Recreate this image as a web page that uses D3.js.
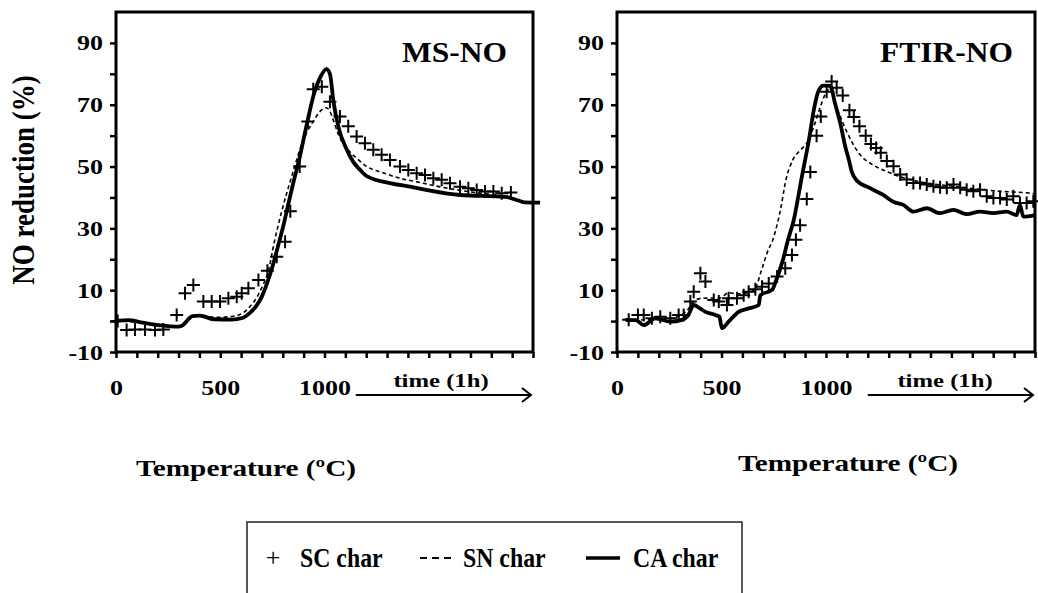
<!DOCTYPE html>
<html>
<head>
<meta charset="utf-8">
<script src="https://cdn.jsdelivr.net/npm/d3@7"></script>
<style>
  body { margin: 0; background: #fff; }
  svg { display: block; font-family: 'Liberation Serif', 'Times New Roman', serif; font-weight: bold; }
</style>
</head>
<body>
<svg id="chart" width="1038" height="593"></svg>
<script>
//Axis ticks and labels
const yTickValues = d3.range(-10, 91, 10);
const yTickLabels = [-10, 10, 30, 50, 70, 90];
const xTickValues = d3.range(0, 2001, 100);
const xTickLabels = [0, 500, 1000];
const panelNames = ['MS-NO', 'FTIR-NO'];
const seriesNames = ['SC char', 'SN char', 'CA char'];

//MS-NO panel, [temperature / time, NO reduction %]
const msSC = [[8,0],[51,-2.9],[91,-2.7],[139,-2.7],[187,-2.9],[227,-2.7],[291,2],[331,9],[371,11.7],[419,6.3],[459,6.3],[499,6.3],[539,7.4],[579,7.9],[603,9],[635,10.6],[683,13.3],[726,16.3],[771,20.8],[811,25.7],[836,35.5],[881,50],[920,64.6],[946,75],[987,75.8],[1026,71],[1074,66.2],[1114,63],[1154,59.7],[1194,57.5],[1234,55.4],[1274,53.8],[1314,52.1],[1362,50],[1402,48.9],[1442,47.8],[1482,47.3],[1522,46.2],[1562,45.7],[1602,44.6],[1650,43.5],[1690,43],[1730,42.4],[1770,41.9],[1810,41.9],[1850,41.4],[1894,41.6]];
const msSN = [[0,0],[128,-0.5],[214,-1.4],[299,-1.8],[316,-1.4],[367,1.6],[401,2],[469,1.2],[555,1.5],[606,2.5],[640,4.5],[674,7.5],[700,11],[730,16],[759,25.5],[794,35.3],[845,47.3],[896,58.2],[947,64.7],[981,68],[1007,69],[1025,68],[1045,64.5],[1067,60.3],[1118,55],[1154,52.7],[1203,50],[1280,48],[1362,46.2],[1426,45.3],[1550,43.5],[1700,41.8],[1850,40.5],[1920,39.5]];
const msCA = [[0,0],[60,0.3],[128,-0.5],[214,-1.4],[299,-1.8],[316,-1.5],[367,1.6],[401,1.8],[469,0.6],[555,0.5],[606,1],[640,2.5],[674,5],[700,8],[726,12.5],[752,18],[778,24.5],[805,31.5],[829,38.6],[855,46],[880,52.7],[915,63.6],[949,73.4],[983,79.3],[1009,81.5],[1026,80],[1043,71],[1068,62.5],[1103,56],[1137,51.6],[1170,49],[1205,46.8],[1325,44.5],[1410,43.5],[1500,42.3],[1650,40.8],[1866,40.2],[1930,39],[1960,38.4],[2034,38.3]];

//FTIR-NO panel
const ftirSC = [[56,0.4],[100,2],[128,2],[167,0.9],[207,1.4],[255,0.9],[295,2],[319,2],[351,6.3],[367,9.5],[399,15.5],[423,12.8],[463,6.8],[487,6.3],[526,5.2],[534,7.4],[574,7.4],[606,8.4],[630,9.5],[662,10.3],[694,11.1],[726,12.2],[766,14.4],[805,17.1],[837,21.4],[856,26.3],[876,31],[908,39.5],[925,48.2],[955,60],[975,66.2],[1003,74.2],[1027,77.5],[1051,75.5],[1080,73],[1112,68.2],[1133,66],[1160,63],[1190,60],[1215,57.3],[1240,56],[1262,54.5],[1291,51.8],[1323,50.1],[1355,47.4],[1386,45.8],[1418,44.7],[1450,44.7],[1482,44.2],[1514,43.6],[1546,43.3],[1578,43.1],[1610,44.2],[1642,43.1],[1673,42.5],[1705,42],[1737,42.5],[1769,40.4],[1801,39.8],[1833,39.8],[1865,39.3],[1896,40.4],[1928,38.2],[1960,38.2],[1992,38.8]];
const ftirSN = [[48,0],[150,0.5],[250,0.8],[330,3],[370,6.5],[407,7.4],[494,7.5],[534,9.2],[574,8.8],[653,9.8],[694,17],[718,22],[749,27],[785,37],[806,45],[840,52],[880,55.5],[912,58],[940,62.6],[972,69.1],[996,73.4],[1020,75.3],[1040,71],[1059,67.8],[1099,61.3],[1163,53.8],[1226,50.5],[1290,48.4],[1354,46.7],[1420,45.5],[1500,44.5],[1610,43.6],[1737,42.6],[1833,42],[1960,41.5],[2000,41.2]];
const ftirCA = [[40,0.4],[90,0.3],[128,-1.3],[183,0.9],[255,-0.2],[311,0.4],[340,1.8],[367,5.2],[395,4.2],[423,3],[470,2],[490,1.4],[502,-2.3],[534,-0.2],[582,3],[630,4.1],[678,5.2],[686,8.4],[742,10.1],[762,13.3],[794,19.8],[818,26.2],[845,32.5],[884,46.5],[918,58.5],[945,69.5],[966,74.8],[988,76.2],[1020,76.1],[1044,70.2],[1070,63.5],[1092,56.5],[1110,52],[1123,48.4],[1147,45.5],[1211,43],[1274,40.8],[1322,38.6],[1370,37.6],[1418,35.4],[1482,36.5],[1545,34.9],[1609,36],[1673,34.6],[1737,35.4],[1800,34.9],[1864,35.4],[1912,34.3],[1928,37.6],[1944,33.8],[2000,34.3]];

//Layout
const plotTop = 12, plotBottom = 352;
const panels = [
  { name: panelNames[0], left: 116, right: 533, series: [msSC, msSN, msCA], labelX: 507, titleX: 246, titleY: 476, timeX: 441, arrowFrom: 1150 },
  { name: panelNames[1], left: 617, right: 1035, series: [ftirSC, ftirSN, ftirCA], labelX: 1013, titleX: 848, titleY: 471, timeX: 945, arrowFrom: 1200 }
];

const svg = d3.select('#chart');
const stretch = 1.18;

//Text with the wide look of the original
function wideText(g, x, y, str, size, anchor, sx) {
  return g.append('text')
    .attr('transform', `translate(${x},${y}) scale(${sx || stretch},1)`)
    .attr('text-anchor', anchor || 'middle')
    .style('font-size', size + 'px')
    .text(str);
}

const plus = 'M-6.5,0H6.5M0,-6.5V6.5';

panels.forEach(p => {
  const x = d3.scaleLinear().domain([0, 2000]).range([p.left, p.right]);
  const y = d3.scaleLinear().domain([-10, 100]).range([plotBottom, plotTop]);
  const g = svg.append('g');

  //Y axis
  const yAxis = g.append('g')
    .attr('transform', `translate(${p.left},0)`)
    .call(d3.axisLeft(y).tickValues(yTickValues).tickSize(6).tickPadding(8)
      .tickFormat(d => yTickLabels.includes(d) ? d : ''))
    .attr('font-family', null).attr('font-size', null);
  yAxis.select('.domain').remove();
  yAxis.selectAll('line').attr('stroke-width', 2.5);
  yAxis.selectAll('text')
    .style('font-size', '22px').style('font-weight', 'bold')
    .attr('transform', `translate(-13,0) scale(${stretch},1)`).attr('x', 0);

  //X axis
  const xAxis = g.append('g')
    .attr('transform', `translate(0,${plotBottom})`)
    .call(d3.axisBottom(x).tickValues(xTickValues).tickSize(6).tickPadding(8)
      .tickFormat(d => xTickLabels.includes(d) ? d : ''))
    .attr('font-family', null).attr('font-size', null);
  xAxis.select('.domain').remove();
  xAxis.selectAll('line').attr('stroke-width', 2.5);
  xAxis.selectAll('text')
    .style('font-size', '22px').style('font-weight', 'bold')
    .attr('y', 0).attr('dy', 0)
    .attr('transform', `translate(0,43) scale(${stretch},1)`);

  //Frame
  g.append('rect')
    .attr('x', p.left).attr('y', plotTop)
    .attr('width', p.right - p.left).attr('height', plotBottom - plotTop)
    .attr('fill', 'none').attr('stroke', '#000').attr('stroke-width', 3);

  const line = d3.line()
    .x(d => x(d[0]))
    .y(d => y(d[1]))
    .curve(d3.curveMonotoneX);

  //SN char dashed
  g.append('path').datum(p.series[1])
    .attr('d', line).attr('fill', 'none')
    .attr('stroke', '#000').attr('stroke-width', 1.6).attr('stroke-dasharray', '4,3');

  //CA char solid
  g.append('path').datum(p.series[2])
    .attr('d', line).attr('fill', 'none')
    .attr('stroke', '#000').attr('stroke-width', 3.8).attr('stroke-linejoin', 'round');

  //SC char markers
  g.selectAll('.sc').data(p.series[0]).enter()
    .append('path')
    .attr('class', 'sc')
    .attr('transform', d => `translate(${x(d[0])},${y(d[1])})`)
    .attr('d', plus).attr('stroke', '#000').attr('stroke-width', 2);

  //Panel label
  wideText(g, p.labelX, 62, p.name, 30, 'end', 1.05);

  //Time arrow
  const ay = 395;
  g.append('line')
    .attr('x1', x(p.arrowFrom)).attr('x2', p.right - 2)
    .attr('y1', ay).attr('y2', ay)
    .attr('stroke', '#000').attr('stroke-width', 2);
  g.append('path')
    .attr('d', `M${p.right - 11},${ay - 7}L${p.right - 2},${ay}L${p.right - 11},${ay + 7}`)
    .attr('fill', 'none').attr('stroke', '#000').attr('stroke-width', 2);
  wideText(g, p.timeX, 387, 'time (1h)', 19, 'middle', 1.3);

  //X title
  wideText(g, p.titleX, p.titleY, 'Temperature (ºC)', 24, 'middle', 1.22);
});

//Y title
svg.append('text')
  .attr('transform', 'translate(34,180) rotate(-90) scale(1,1.15)')
  .attr('text-anchor', 'middle')
  .style('font-size', '27px')
  .text('NO reduction (%)');

//Legend
const legend = svg.append('g');
legend.append('rect')
  .attr('x', 247).attr('y', 522).attr('width', 495).attr('height', 120)
  .attr('fill', 'none').attr('stroke', '#222').attr('stroke-width', 1.5);
legend.append('text')
  .attr('x', 273).attr('y', 566).attr('text-anchor', 'middle')
  .style('font-size', '26px').style('font-weight', 'normal')
  .text('+');
legend.append('line')
  .attr('x1', 420).attr('x2', 455).attr('y1', 558).attr('y2', 558)
  .attr('stroke', '#000').attr('stroke-width', 2).attr('stroke-dasharray', '7,5');
legend.append('line')
  .attr('x1', 586).attr('x2', 620).attr('y1', 558).attr('y2', 558)
  .attr('stroke', '#000').attr('stroke-width', 3.5);
[[300, seriesNames[0]], [463, seriesNames[1]], [633, seriesNames[2]]].forEach(([lx, t]) => {
  wideText(legend, lx, 567, t, 28, 'start', 0.85);
});
</script>
</body>
</html>
